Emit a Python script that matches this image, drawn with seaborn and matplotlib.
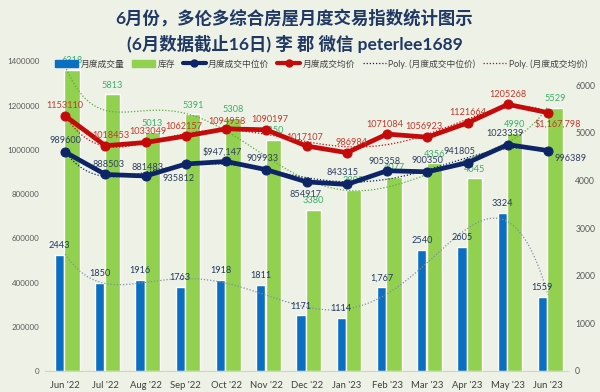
import numpy as np
import pandas as pd
import matplotlib
matplotlib.use("Agg")
import matplotlib.pyplot as plt
import matplotlib.ticker as mticker
import seaborn as sns
from matplotlib.lines import Line2D
from matplotlib.patches import Patch

# ---------------- data ----------------
months = ["Jun '22", "Jul '22", "Aug '22", "Sep '22", "Oct '22", "Nov '22", "Dec '22",
          "Jan '23", "Feb '23", "Mar '23", "Apr '23", "May '23", "Jun '23"]
volume = [2443, 1850, 1916, 1763, 1918, 1811, 1171, 1114, 1767, 2540, 2605, 3324, 1559]
inventory = [6318, 5813, 5013, 5391, 5308, 4850, 3380, 3808, 4077, 4356, 4045, 4990, 5529]
median_price = [989600, 888503, 881483, 935812, 947147, 909933, 854917, 843315, 905358,
                900350, 941805, 1023339, 996389]
avg_price = [1153110, 1018453, 1033049, 1062157, 1094958, 1090197, 1017107, 986984,
             1071084, 1056923, 1121664, 1205268, 1167798]
volume_text = ["2443", "1850", "1916", "1763", "1918", "1811", "1171", "1114", "1,767",
               "2540", "2605", "3324", "1559"]
median_text = ["989600", "888503", "881483", "935812", "$947,147", "909933", "854917",
               "843315", "905358", "900350", "941805", "1023339", "996389"]
avg_text = ["1153110", "1018453", "1033049", "1062157", "1094958", "1090197", "1017107",
            "986984", "1071084", "1056923", "1121664", "1205268", "$1,167,798"]
legend_labels = ["月度成交量", "库存", "月度成交中位价", "月度成交均价",
                 "Poly. (月度成交中位价)", "Poly. (月度成交均价)"]
title1 = "6月份，多伦多综合房屋月度交易指数统计图示"
title2 = "(6月数据截止16日) 李 郡 微信 peterlee1689"

# ---------------- style ----------------
BG = "#EEF1E6"
BLUE = "#0A6EC2"
GREEN = "#92D050"
NAVY = "#0D2466"
RED = "#C40A0A"
TITLE_C = "#1F3864"
LBL = 6.6

sns.set_theme(style="white")
plt.rcParams["font.family"] = ["Lato", "Noto Sans CJK SC", "DejaVu Sans"]

df = pd.DataFrame({"pos": np.arange(len(months)), "volume": volume,
                   "inventory": inventory, "median": median_price, "avg": avg_price})

fig = plt.figure(figsize=(6, 3.92), dpi=100, facecolor=BG)
ax = fig.add_axes([0.075, 0.0536, 0.872, 0.79])
ax.set_facecolor(BG)
ax2 = ax.twinx()

# bars on the right-hand scale
sns.barplot(x=df["pos"] - 0.14, y=df["volume"], native_scale=True, width=0.23,
            color=BLUE, saturation=1, errorbar=None, ax=ax)
sns.barplot(x=df["pos"] + 0.17, y=df["inventory"], native_scale=True, width=0.38,
            color=GREEN, saturation=1, errorbar=None, ax=ax)

# polynomial trendlines for bars
xf = np.linspace(0, len(months) - 1, 200)
for vals, col in [(volume, "#7F8FA6"), (inventory, "#5BAA3C")]:
    c = np.polyfit(df["pos"], vals, 6)
    ax.plot(xf, np.polyval(c, xf), ls=(0, (1, 1.5)), lw=0.9, color=col, zorder=3)

for i, (v, t) in enumerate(zip(volume, volume_text)):
    ax.annotate(t, (i - 0.14, v), xytext=(0, 9), textcoords="offset pixels",
                ha="center", va="center", fontsize=LBL, color="#1F3864", zorder=5)
for i, v in enumerate(inventory):
    ax.annotate(str(v), (i + 0.17, v), xytext=(0, 9), textcoords="offset pixels",
                ha="center", va="center", fontsize=LBL, color="#3DAE6A", zorder=5)

# lines on left-hand scale
sns.lineplot(x=df["pos"], y=df["median"], ax=ax2, color=NAVY, lw=3.4, marker="o",
             markersize=6.5, markeredgecolor=NAVY, zorder=4)
sns.lineplot(x=df["pos"], y=df["avg"], ax=ax2, color=RED, lw=3.4, marker="o",
             markersize=6.5, markeredgecolor=RED, zorder=4)
for vals, col in [(median_price, NAVY), (avg_price, RED)]:
    c = np.polyfit(df["pos"], vals, 6)
    ax2.plot(xf, np.polyval(c, xf), ls=(0, (1, 1.5)), lw=0.9, color=col, zorder=3)

med_off = [(0, 12), (3, 10), (2, 9), (-7, -15), (-4, 9), (-4, 11), (-1, -13),
           (-4, 12), (-3, 9), (0, 11), (-8, 11), (-3, 11), (22, -8)]
avg_off = [(0, 10), (6, 10), (2, 11), (-2, 10), (1, 7), (3, 10), (-2, 9),
           (5, 10), (-2, 10), (-3, 11), (0, 10), (0, 10), (10, -11)]
for i, (v, t) in enumerate(zip(median_price, median_text)):
    ax2.annotate(t, (i, v), xytext=med_off[i], textcoords="offset pixels",
                 ha="center", va="center", fontsize=LBL, color="#2E3F5F", zorder=6)
for i, (v, t) in enumerate(zip(avg_price, avg_text)):
    ax2.annotate(t, (i, v), xytext=avg_off[i], textcoords="offset pixels",
                 ha="center", va="center", fontsize=LBL, color="#C0392B", zorder=6)

# axes formatting (after all plotting)
ax.set_ylim(0, 6500)
ax.set_xlim(-0.5, len(months) - 0.5)
ax.set_yticks(range(0, 6001, 1000))
ax.yaxis.set_major_formatter(mticker.StrMethodFormatter("{x:.0f}"))
ax.yaxis.tick_right()
ax.set_xticks(df["pos"])
ax.set_xticklabels(months)
ax.tick_params(axis="x", length=0, pad=7, labelsize=6.8, labelcolor="#404040")
ax.tick_params(axis="y", which="both", length=0, pad=5, labelsize=6.2,
               labelcolor="#595959", left=False, labelleft=False,
               right=True, labelright=True)
ax.set_xlabel("")
ax.set_ylabel("")
for s in ["top", "left", "right"]:
    ax.spines[s].set_visible(False)
ax.spines["bottom"].set_color("#D0D4C8")
ax.spines["bottom"].set_linewidth(0.8)

ax2.set_ylim(0, 1400000)
ax2.set_yticks(range(0, 1400001, 200000))
ax2.yaxis.set_major_formatter(mticker.StrMethodFormatter("{x:.0f}"))
ax2.yaxis.tick_left()
ax2.tick_params(axis="y", which="both", length=0, pad=4, labelsize=5.8,
                labelcolor="#595959", left=True, labelleft=True,
                right=False, labelright=False)
ax2.set_ylabel("")
ax2.set_xlim(-0.5, len(months) - 0.5)
for s in ["top", "left", "right", "bottom"]:
    ax2.spines[s].set_visible(False)

# legend
handles = [Patch(color=BLUE), Patch(color=GREEN),
           Line2D([], [], color=NAVY, lw=3, marker="o", markersize=5),
           Line2D([], [], color=RED, lw=3, marker="o", markersize=5),
           Line2D([], [], color=NAVY, lw=0.9, ls=(0, (1, 1.5))),
           Line2D([], [], color=RED, lw=0.9, ls=(0, (1, 1.5)))]
fig.legend(handles, legend_labels, loc="center", bbox_to_anchor=(0.535, 0.837),
           ncol=6, frameon=False, fontsize=6.3, handlelength=2.6, handleheight=0.8,
           columnspacing=0.9, handletextpad=0.3, labelcolor="#404040")

fig.text(0.49, 0.955, title1, ha="center", va="center", fontsize=12.5,
         weight="bold", color=TITLE_C)
fig.text(0.492, 0.888, title2, ha="center", va="center", fontsize=12.5,
         weight="bold", color=TITLE_C)

fig.savefig("out.png", dpi=100, facecolor=BG)
